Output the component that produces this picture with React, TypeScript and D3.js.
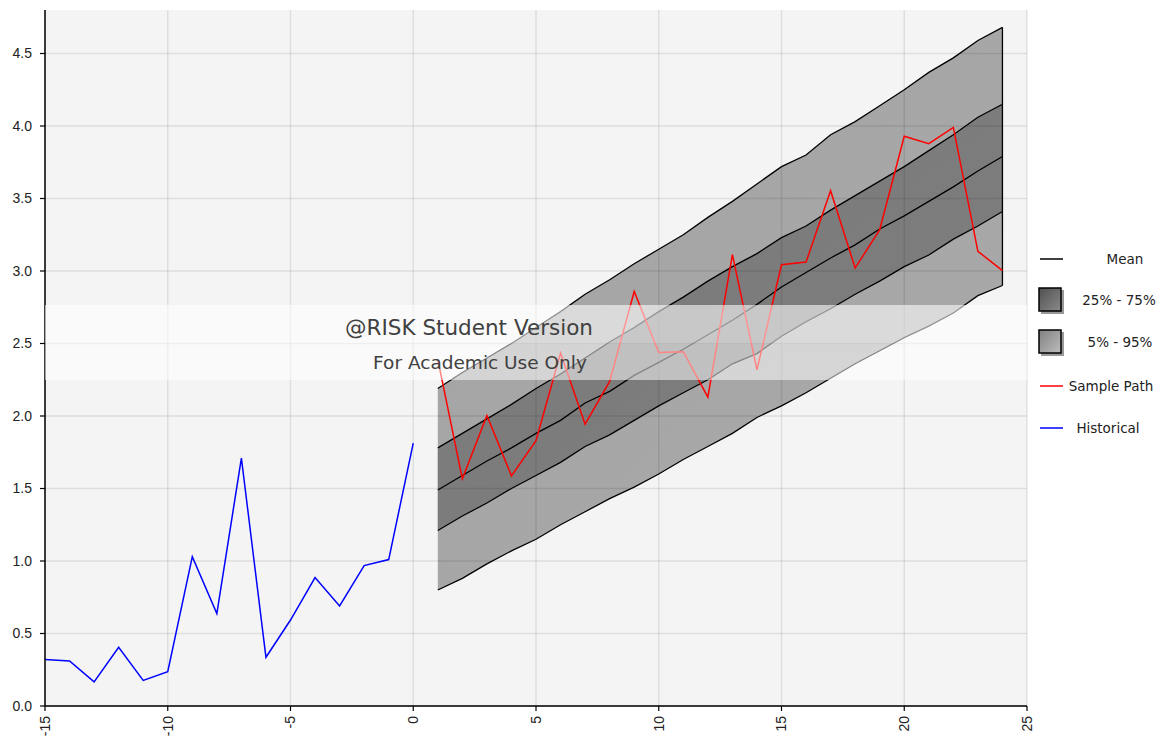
import * as d3 from 'd3';

const histX = [-15, -14, -13, -12, -11, -10, -9, -8, -7, -6, -5, -4, -3, -2, -1, 0];
const histY = [0.32, 0.31, 0.166, 0.405, 0.177, 0.237, 1.03, 0.637, 1.71, 0.336, 0.593, 0.886, 0.69, 0.968, 1.01, 1.813];

const fcX = [1, 2, 3, 4, 5, 6, 7, 8, 9, 10, 11, 12, 13, 14, 15, 16, 17, 18, 19, 20, 21, 22, 23, 24];
const p5 = [0.8, 0.88, 0.98, 1.07, 1.15, 1.25, 1.34, 1.43, 1.51, 1.6, 1.7, 1.79, 1.88, 1.99, 2.07, 2.16, 2.26, 2.36, 2.45, 2.54, 2.62, 2.71, 2.83, 2.9];
const p25 = [1.21, 1.31, 1.4, 1.5, 1.59, 1.68, 1.79, 1.87, 1.97, 2.07, 2.16, 2.25, 2.36, 2.43, 2.55, 2.65, 2.74, 2.84, 2.93, 3.03, 3.11, 3.22, 3.31, 3.41];
const mean = [1.49, 1.59, 1.69, 1.78, 1.88, 1.97, 2.09, 2.17, 2.28, 2.37, 2.46, 2.56, 2.66, 2.77, 2.89, 2.99, 3.09, 3.18, 3.29, 3.38, 3.48, 3.58, 3.69, 3.79];
const p75 = [1.78, 1.88, 1.98, 2.08, 2.19, 2.29, 2.4, 2.51, 2.61, 2.72, 2.82, 2.93, 3.03, 3.12, 3.23, 3.31, 3.42, 3.52, 3.62, 3.72, 3.83, 3.94, 4.06, 4.15];
const p95 = [2.19, 2.3, 2.4, 2.5, 2.61, 2.72, 2.84, 2.94, 3.05, 3.15, 3.25, 3.37, 3.48, 3.6, 3.72, 3.8, 3.94, 4.03, 4.14, 4.25, 4.37, 4.47, 4.59, 4.68];
const sample = [2.39, 1.567, 2.004, 1.587, 1.829, 2.434, 1.944, 2.238, 2.859, 2.438, 2.443, 2.13, 3.113, 2.319, 3.043, 3.062, 3.554, 3.02, 3.285, 3.929, 3.878, 3.99, 3.136, 3.002];

const xTicks = [-15, -10, -5, 0, 5, 10, 15, 20, 25];
const yTicks = [0, 0.5, 1, 1.5, 2, 2.5, 3, 3.5, 4, 4.5];

const legendItems = [
  { label: 'Mean', kind: 'line', color: '#000' },
  { label: '25% - 75%', kind: 'box', color: 'inner' },
  { label: '5% - 95%', kind: 'box', color: 'outer' },
  { label: 'Sample Path', kind: 'line', color: '#ff0000' },
  { label: 'Historical', kind: 'line', color: '#0000ff' },
];

const W = 1169;
const H = 747;
const m = { left: 45, right: 1027, top: 10, bottom: 706 };

export default function App() {
  const x = d3.scaleLinear().domain([-15, 25]).range([m.left, m.right]);
  const y = d3.scaleLinear().domain([0, 4.8]).range([m.bottom, m.top]);

  const line = d3
    .line<[number, number]>()
    .x((d) => x(d[0]))
    .y((d) => y(d[1]));

  const band = (lo: number[], hi: number[]) =>
    d3
      .area<number>()
      .x((d) => x(d))
      .y0((_, i) => y(lo[i]))
      .y1((_, i) => y(hi[i]))(fcX) as string;

  const pairs = (ys: number[], xs: number[] = fcX) => xs.map((v, i) => [v, ys[i]] as [number, number]);

  const font = "'Liberation Sans', Arial, sans-serif";
  const lfont = "'DejaVu Sans', Tahoma, sans-serif";

  // legend rows: vertical centre and text centre
  const rowY = [259, 300, 342, 386, 428];
  const rowTx = [1125, 1119, 1120, 1111, 1108];

  return (
    <svg width={W} height={H} style={{ position: 'absolute', left: 0, top: 0, background: '#fff' }}>
      <defs>
        <linearGradient id="outerG" x1="0" y1="0" x2="1" y2="1">
          <stop offset="0" stopColor="#a4a4a4" />
          <stop offset="1" stopColor="#a9a9a9" />
        </linearGradient>
        <linearGradient id="innerG" x1="0" y1="0" x2="1" y2="1">
          <stop offset="0" stopColor="#7a7a7a" />
          <stop offset="1" stopColor="#7e7e7e" />
        </linearGradient>
        <linearGradient id="swInner" x1="0" y1="0" x2="1" y2="1">
          <stop offset="0" stopColor="#505050" />
          <stop offset="1" stopColor="#8a8a8a" />
        </linearGradient>
        <linearGradient id="swOuter" x1="0" y1="0" x2="1" y2="1">
          <stop offset="0" stopColor="#808080" />
          <stop offset="1" stopColor="#bdbdbd" />
        </linearGradient>
      </defs>

      <rect x={m.left} y={m.top} width={m.right - m.left} height={m.bottom - m.top} fill="#f4f4f4" />

      {/* forecast bands */}
      <path d={band(p5, p95)} fill="url(#outerG)" />
      <path d={band(p25, p75)} fill="url(#innerG)" />
      {[p5, p25, mean, p75, p95].map((s, i) => (
        <path key={i} d={line(pairs(s)) as string} fill="none" stroke="#000" strokeWidth={1.3} />
      ))}
      <line x1={x(24)} x2={x(24)} y1={y(p5[23])} y2={y(p95[23])} stroke="#000" strokeWidth={1.3} />

      {/* grid on top, translucent */}
      {yTicks.map((t) => (
        <line key={'gy' + t} x1={m.left} x2={m.right} y1={y(t)} y2={y(t)} stroke="rgba(0,0,0,0.09)" strokeWidth={1.5} />
      ))}
      {xTicks.map((t) => (
        <line key={'gx' + t} x1={x(t)} x2={x(t)} y1={m.top} y2={m.bottom} stroke="rgba(0,0,0,0.09)" strokeWidth={1.5} />
      ))}

      <path d={line(pairs(sample)) as string} fill="none" stroke="#ff0000" strokeWidth={1.5} />
      <path d={line(pairs(histY, histX)) as string} fill="none" stroke="#0000ff" strokeWidth={1.5} />

      {/* axes */}
      <line x1={m.left} x2={m.left} y1={m.top} y2={m.bottom} stroke="#000" strokeWidth={1.5} />
      <line x1={m.left} x2={m.right} y1={m.bottom} y2={m.bottom} stroke="#000" strokeWidth={1.5} />
      {yTicks.map((t) => (
        <g key={'ty' + t}>
          <line x1={m.left - 5} x2={m.left} y1={y(t)} y2={y(t)} stroke="#000" strokeWidth={1.2} />
          <text x={m.left - 13} y={y(t)} dy="0.35em" textAnchor="end" fontFamily={font} fontSize={14} fill="#222">
            {d3.format('.1f')(t)}
          </text>
        </g>
      ))}
      {xTicks.map((t) => (
        <g key={'tx' + t}>
          <line x1={x(t)} x2={x(t)} y1={m.bottom} y2={m.bottom + 5} stroke="#000" strokeWidth={1.2} />
          <text
            transform={`translate(${x(t)},${m.bottom + 10}) rotate(-90)`}
            dy="0.35em"
            textAnchor="end"
            fontFamily={font}
            fontSize={14}
            fill="#222"
          >
            {t}
          </text>
        </g>
      ))}

      {/* watermark */}
      <rect x={m.left} y={305} width={m.right - m.left} height={38} fill="#fff" opacity={0.58} />
      <rect x={m.left} y={343} width={m.right - m.left} height={37} fill="#fff" opacity={0.52} />
      <text x={469} y={335} textAnchor="middle" fontFamily={lfont} fontSize={21.5} fill="#404040">
        @RISK Student Version
      </text>
      <text x={480} y={369} textAnchor="middle" fontFamily={lfont} fontSize={18.5} fill="#404040">
        For Academic Use Only
      </text>

      {/* legend */}
      {legendItems.map((it, i) => {
        const cy = rowY[i];
        return (
          <g key={it.label}>
            {it.kind === 'line' ? (
              <line x1={1040} x2={1063} y1={cy} y2={cy} stroke={it.color} strokeWidth={1.5} />
            ) : (
              <g>
                <rect x={1041} y={cy - 10} width={23} height={24} fill="#999" />
                <rect
                  x={1039}
                  y={cy - 12}
                  width={22}
                  height={23}
                  fill={it.color === 'inner' ? 'url(#swInner)' : 'url(#swOuter)'}
                  stroke="#000"
                  strokeWidth={1.5}
                />
              </g>
            )}
            <text x={rowTx[i]} y={cy} dy="0.35em" textAnchor="middle" fontFamily={lfont} fontSize={13.5} fill="#222">
              {it.label}
            </text>
          </g>
        );
      })}
    </svg>
  );
}
